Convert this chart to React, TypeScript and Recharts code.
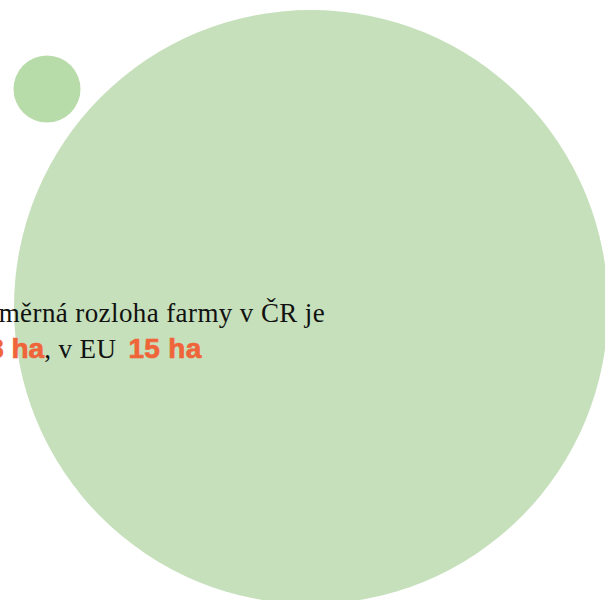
import { ScatterChart, Scatter, XAxis, YAxis, ZAxis, Cell } from 'recharts';

// average farm size, hectares
const regions = ['ČR', 'EU'];
const farmSize = [133, 15];

// where each bubble sits on the 605x600 canvas
const centerX = [311, 47];
const centerY = [307, 89];
const fills = ['#c5e0bb', '#b8dbaa'];

const rows = regions.map((name, i) => ({
  name,
  ha: farmSize[i],
  x: centerX[i],
  y: centerY[i],
}));

const ORANGE = '#f0643a';
const serif = '"Liberation Serif", "Times New Roman", serif';
const sans = '"Liberation Sans", Arial, sans-serif';

const Bubble = (props: any) => (
  <circle cx={props.cx} cy={props.cy} r={props.size} fill={props.fill} />
);

// caption sits on top of the big bubble, cut by the left edge like the original
const Caption = () => (
  <svg
    width={605}
    height={600}
    style={{ position: 'absolute', left: 0, top: 0, pointerEvents: 'none' }}
  >
    <text x={-40} y={322} fontFamily={serif} fontSize={27} letterSpacing={0.4} fill="#111">
      Průměrná rozloha farmy v ČR je
    </text>
    <text x={-43} y={358} fill="#111">
      <tspan fontFamily={sans} fontSize={28} fontWeight={700} fill={ORANGE} stroke={ORANGE} strokeWidth={0.7}>
        {farmSize[0]} ha
      </tspan>
      <tspan fontFamily={serif} fontSize={27} letterSpacing={0.4}>, v EU </tspan>
      <tspan dx={5} fontFamily={sans} fontSize={28} fontWeight={700} fill={ORANGE} stroke={ORANGE} strokeWidth={0.7} letterSpacing={0.3}>
        {farmSize[1]} ha
      </tspan>
    </text>
  </svg>
);

export default function App() {
  return (
    <div style={{ position: 'absolute', left: 0, top: 0, width: 605, height: 600 }}>
      <ScatterChart width={605} height={600} margin={{ top: 0, right: 0, bottom: 0, left: 0 }}>
        <XAxis type="number" dataKey="x" domain={[0, 605]} hide />
        <YAxis type="number" dataKey="y" domain={[0, 600]} reversed hide />
        <ZAxis type="number" dataKey="ha" domain={[0, 133]} range={[0, 297]} />
        <Scatter data={rows} shape={Bubble} isAnimationActive={false}>
          {rows.map((r, i) => (
            <Cell key={r.name} fill={fills[i]} />
          ))}
        </Scatter>
      </ScatterChart>
      <Caption />
    </div>
  );
}
